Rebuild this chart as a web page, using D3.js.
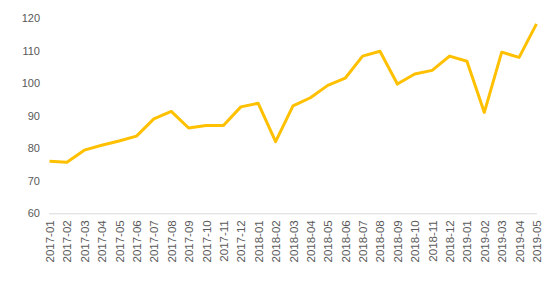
<!DOCTYPE html>
<html><head><meta charset="utf-8">
<script src="https://cdn.jsdelivr.net/npm/d3@7"></script>
<style>body{margin:0;background:#fff}svg{display:block}</style>
</head><body><svg id="c" width="559" height="292"></svg>
<script>
const categories = ["2017-01","2017-02","2017-03","2017-04","2017-05","2017-06","2017-07","2017-08","2017-09","2017-10","2017-11","2017-12","2018-01","2018-02","2018-03","2018-04","2018-05","2018-06","2018-07","2018-08","2018-09","2018-10","2018-11","2018-12","2019-01","2019-02","2019-03","2019-04","2019-05"];
const values = [76.0,75.7,79.4,80.9,82.2,83.7,89.0,91.3,86.2,87.0,87.0,92.7,93.8,82.0,93.0,95.5,99.3,101.5,108.3,109.8,99.7,102.8,103.9,108.3,106.7,91.0,109.5,107.9,118.2];
const yTicks = [60,70,80,90,100,110,120];

const svg = d3.select("#c");
const x = d3.scalePoint().domain(categories).range([49.5, 536.5]);
const y = d3.scaleLinear().domain([60,120]).range([213.3, 18]);

// y axis labels
const ya = svg.append("g").attr("transform","translate(40,0)")
  .call(d3.axisLeft(y).tickValues(yTicks).tickSize(0).tickPadding(0));
ya.select(".domain").remove();
ya.selectAll("text").attr("font-family","Liberation Sans, Arial, sans-serif").attr("font-size","11px").attr("fill","#595959");

// x axis
const xa = svg.append("g").attr("transform","translate(0,213.3)")
  .call(d3.axisBottom(x).tickSize(0).tickPadding(0));
xa.select(".domain").attr("stroke","#D9D9D9").attr("stroke-width",1).attr("d","M49,0.5H537");
xa.selectAll("text")
  .attr("font-family","Liberation Sans, Arial, sans-serif").attr("font-size","11.5px").attr("fill","#595959")
  .attr("transform","rotate(-90)").attr("text-anchor","end").attr("dy","0.35em").attr("x",-7).attr("y",0);

// line
svg.append("path").datum(values)
  .attr("fill","none").attr("stroke","#FFC000").attr("stroke-width",3).attr("stroke-linejoin","round")
  .attr("d", d3.line().x((d,i)=>x(categories[i])).y(d=>y(d)));
</script></body></html>
